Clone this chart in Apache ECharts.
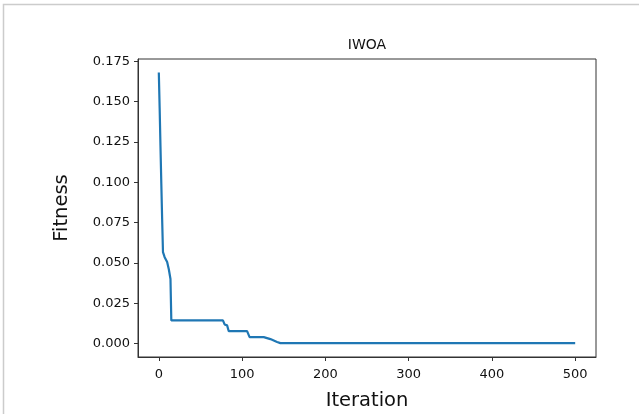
<!DOCTYPE html>
<html>
<head>
<meta charset="utf-8">
<script src="https://cdn.jsdelivr.net/npm/echarts@6/dist/echarts.min.js"></script>
<style>
html,body{margin:0;padding:0;background:#fff;}
#chart{width:639px;height:414px;}
</style>
</head>
<body>
<div id="chart"></div>
<script>
const titleText = 'IWOA';
const xName = 'Iteration';
const yName = 'Fitness';
const iterations = [0, 1, 2, 3, 4, 5, 7, 10, 12, 14, 15, 77, 79, 82, 84, 106, 109, 126, 130, 134, 138, 142, 146, 500];
const fitness = [0.168, 0.146, 0.122, 0.099, 0.077, 0.0566, 0.0535, 0.0505, 0.046, 0.040, 0.0143, 0.0143, 0.0118, 0.0112, 0.0076, 0.0076, 0.0039, 0.0039, 0.0033, 0.0027, 0.0018, 0.0009, 0.0002, 0.0002];
const xTicks = [0, 100, 200, 300, 400, 500];
const yTicks = [0, 0.025, 0.05, 0.075, 0.1, 0.125, 0.15, 0.175];

const chart = echarts.init(document.getElementById('chart'), null, {renderer: 'canvas'});
const font = 'DejaVu Sans';
const data = iterations.map((x, i) => [x, fitness[i]]);
chart.setOption({
  animation: false,
  backgroundColor: '#fff',
  graphic: [{
    type: 'rect',
    shape: {x: 3.5, y: 4.5, width: 700, height: 500},
    style: {fill: 'none', stroke: '#cccccc', lineWidth: 1.5},
    silent: true
  }],
  title: {
    text: titleText,
    left: 362,
    top: 33,
    textAlign: 'center',
    textStyle: {fontFamily: font, fontSize: 14, fontWeight: 'normal', color: '#111'}
  },
  grid: {
    left: 138, right: 43, top: 59, bottom: 57,
    containLabel: false,
    outerBoundsMode: 'none',
    show: true, borderColor: '#333', borderWidth: 1, backgroundColor: 'transparent'
  },
  xAxis: {
    type: 'value',
    min: -25, max: 525,
    name: xName,
    nameLocation: 'middle',
    nameGap: 34,
    nameTextStyle: {fontFamily: font, fontSize: 19.5, color: '#111'},
    axisLine: {show: true, onZero: false, lineStyle: {color: '#333', width: 1}},
    splitLine: {show: false},
    axisTick: {show: true, inside: false, length: 4, customValues: xTicks, lineStyle: {color: '#333', width: 1}},
    axisLabel: {customValues: xTicks, margin: 11, fontFamily: font, fontSize: 13, color: '#111'}
  },
  yAxis: {
    type: 'value',
    min: -0.0084, max: 0.1764,
    name: yName,
    nameLocation: 'middle',
    nameRotate: 90,
    nameGap: 66,
    nameTextStyle: {fontFamily: font, fontSize: 19.5, color: '#111'},
    axisLine: {show: true, onZero: false, lineStyle: {color: '#333', width: 1}},
    splitLine: {show: false},
    axisTick: {show: true, inside: false, length: 4, customValues: yTicks, lineStyle: {color: '#333', width: 1}},
    axisLabel: {customValues: yTicks, margin: 8, fontFamily: font, fontSize: 13, color: '#111',
      formatter: v => v.toFixed(3)}
  },
  series: [{
    type: 'line',
    data: data,
    showSymbol: false,
    lineStyle: {color: '#1f77b4', width: 2.2},
    itemStyle: {color: '#1f77b4'}
  }]
});
</script>
</body>
</html>
